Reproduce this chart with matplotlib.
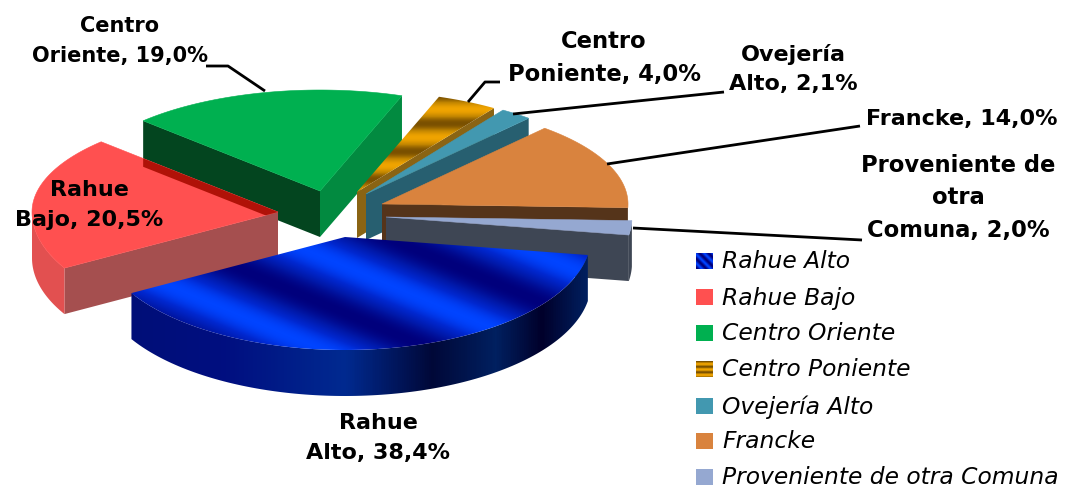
import numpy as np
import matplotlib
matplotlib.use("Agg")
import matplotlib.pyplot as plt
from matplotlib.colors import LinearSegmentedColormap
from matplotlib.patches import Polygon, Rectangle

# datos
sectores = ["Rahue Alto", "Rahue Bajo", "Centro Oriente", "Centro Poniente",
            "Ovejería Alto", "Francke", "Proveniente de otra Comuna"]
valores = [38.4, 20.5, 19.0, 4.0, 2.1, 14.0, 2.0]
nombres_etiqueta = ["Rahue\nAlto", "Rahue\nBajo", "Centro\nOriente", "Centro\nPoniente",
                    "Ovejería\nAlto", "Francke", "Proveniente de\notra\nComuna"]

# estilo (pixeles de la imagen)
centros = [(345, 238), (278, 213), (320, 192), (357, 193), (366, 195), (382, 205), (386, 218)]
col_tapa = ["#0038e0", "#ff5050", "#00b050", "#e8a000", "#4298b0", "#d9833e", "#95a8d1"]
col_radial_ini = [None, "#a54f4f", "#03451f", None, None, None, None]
col_radial_fin = [None, None, "#028a40", "#8a6414", "#275f70", "#55341a", "#3e4654"]
col_curva = ["#001a80", "#e25050", None, None, None, "#55341a", "#3e4654"]
pos_etiq = [(378, 438), (89, 205), (120, 41), (604, 58), (793, 69), (962, 119), (958, 198)]
tam_etiq = [16, 16, 15, 16.3, 16, 16, 16.3]
guias = [None, None,
         [(206, 67), (228, 67), (265, 92)],
         [(500, 83), (485, 83), (468, 103)],
         [(513, 115), (724, 93)],
         [(607, 165), (860, 127)],
         [(633, 229), (862, 241)]]
filas_leyenda = [262, 298, 334, 370, 407, 442, 478]

A, B_FRENTE, B_ATRAS, ALTO = 246, 113, 101, 46
INICIO = 9
FUENTE = "DejaVu Sans"


def borde(c, t):
    # la perspectiva del original corre un poco los angulos del lado izquierdo
    t = np.asarray(t, dtype=float)
    t = t + np.interp(t % 360, [0, 147, 221, 290, 360], [0, 3, 3, 0, 0])
    t = np.radians(t)
    s = np.sin(t)
    b = np.where(s > 0, B_FRENTE, B_ATRAS)
    return np.column_stack([c[0] + A * np.cos(t), c[1] + b * s])


def tapa(c, t0, t1):
    return np.vstack([[c], borde(c, np.linspace(t0, t1, 120))])


def pared_radial(c, t):
    p = borde(c, np.array([t]))[0]
    return [c, p, (p[0], p[1] + ALTO), (c[0], c[1] + ALTO)]


def pared_curva(c, t0, t1):
    # solo la parte que mira hacia el frente
    trozos = []
    for a, b in ((0, 177), (360, 540)):
        ini, fin = max(t0, a), min(t1, b)
        if fin > ini:
            arco = borde(c, np.linspace(ini, fin, 120))
            trozos.append(np.vstack([arco, (arco + [0, ALTO])[::-1]]))
    return trozos


fig = plt.figure(figsize=(10.67, 4.89), dpi=100)
ax = fig.add_axes([0, 0, 1, 1])
ax.axis("off")

grad_azul = LinearSegmentedColormap.from_list("azul", [
    (0, "#00007c"), (0.35, "#0018a8"), (0.7, "#0028d0"), (1, "#0044ff")])
grad_lado = LinearSegmentedColormap.from_list("lado", [
    (0, "#000f78"), (0.2, "#000e80"), (0.47, "#002a90"), (0.66, "#000838"),
    (0.8, "#002060"), (0.9, "#00002a"), (1, "#002060")])
grad_oro = LinearSegmentedColormap.from_list("oro", ["#7a5000", "#c08400", "#f0a400"])

xx, yy = np.meshgrid(np.arange(0, 1067), np.arange(0, 489))
franjas_azul = 0.5 + 0.5 * np.cos(2 * np.pi * ((xx - 305) - (yy - 297) / 0.42) / 222 + np.pi)
franjas_oro = 0.5 + 0.5 * np.cos(2 * np.pi * (yy - 110) / 28)
extension = (0, 1067, 489, 0)


def relleno_imagen(datos, cmap, poli, z):
    im = ax.imshow(datos, cmap=cmap, vmin=0, vmax=1, extent=extension, aspect="auto",
                   zorder=z, interpolation="bilinear")
    parche = Polygon(poli, closed=True, facecolor="none", edgecolor="none", zorder=z)
    ax.add_patch(parche)
    im.set_clip_path(parche)


angulos = INICIO + np.concatenate([[0], np.cumsum(valores)]) / sum(valores) * 360
orden = [2, 1, 3, 4, 5, 6, 0]

for z, i in enumerate(orden):
    c = centros[i]
    t0, t1 = angulos[i], angulos[i + 1]
    base = 10 * (z + 1)
    if col_radial_ini[i]:
        ax.add_patch(Polygon(pared_radial(c, t0), facecolor=col_radial_ini[i], zorder=base))
    if col_radial_fin[i]:
        ax.add_patch(Polygon(pared_radial(c, t1), facecolor=col_radial_fin[i], zorder=base))
    for trozo in pared_curva(c, t0, t1):
        if i == 0:
            lado = np.clip((xx - 129) / (588 - 129), 0, 1)
            relleno_imagen(lado, grad_lado, trozo, base + 1)
        else:
            ax.add_patch(Polygon(trozo, facecolor=col_curva[i], zorder=base + 1))
    poli = tapa(c, t0, t1)
    if i == 0:
        relleno_imagen(franjas_azul, grad_azul, poli, base + 2)
    elif i == 3:
        relleno_imagen(franjas_oro, grad_oro, poli, base + 2)
    else:
        ax.add_patch(Polygon(poli, facecolor=col_tapa[i], edgecolor=col_tapa[i],
                             linewidth=0.4, zorder=base + 2))

# franja oscura donde la pared verde pasa bajo el rojo
zona = Polygon(tapa(centros[1], angulos[1], angulos[2]), facecolor="none", edgecolor="none",
               transform=ax.transData, zorder=25)
ax.add_patch(zona)
franja = Polygon(pared_radial(centros[2], angulos[2]), facecolor="#b01208", zorder=25)
ax.add_patch(franja)
franja.set_clip_path(zona)

# lineas guia
for g in guias:
    if g:
        ax.plot([p[0] for p in g], [p[1] for p in g], color="black", lw=2.0, zorder=100,
                solid_capstyle="butt")

# etiquetas
for nombre, v, p, tam in zip(nombres_etiqueta, valores, pos_etiq, tam_etiq):
    texto = f"{nombre}, {v:.1f}%".replace(".", ",")
    ax.text(p[0], p[1], texto, ha="center", va="center", family=FUENTE, weight="bold",
            fontsize=tam, linespacing=26 / tam * 0.97, color="black", zorder=110)

# leyenda
for i, (s, y) in enumerate(zip(sectores, filas_leyenda)):
    caja = [(696, y - 8), (713, y - 8), (713, y + 8), (696, y + 8)]
    if i == 0:
        relleno_imagen(0.5 + 0.5 * np.cos(2 * np.pi * (xx - yy) / 9), grad_azul, caja, 100)
    elif i == 3:
        relleno_imagen(0.5 + 0.5 * np.cos(2 * np.pi * (yy - y) / 5.5), grad_oro, caja, 100)
    else:
        ax.add_patch(Rectangle((696, y - 8), 17, 16, facecolor=col_tapa[i], zorder=100))
    ax.text(722, y, s, ha="left", va="center", family=FUENTE, style="italic",
            fontsize=16.8, color="black", zorder=110)

ax.set_xlim(0, 1067)
ax.set_ylim(489, 0)
fig.savefig("out.png", dpi=100)
